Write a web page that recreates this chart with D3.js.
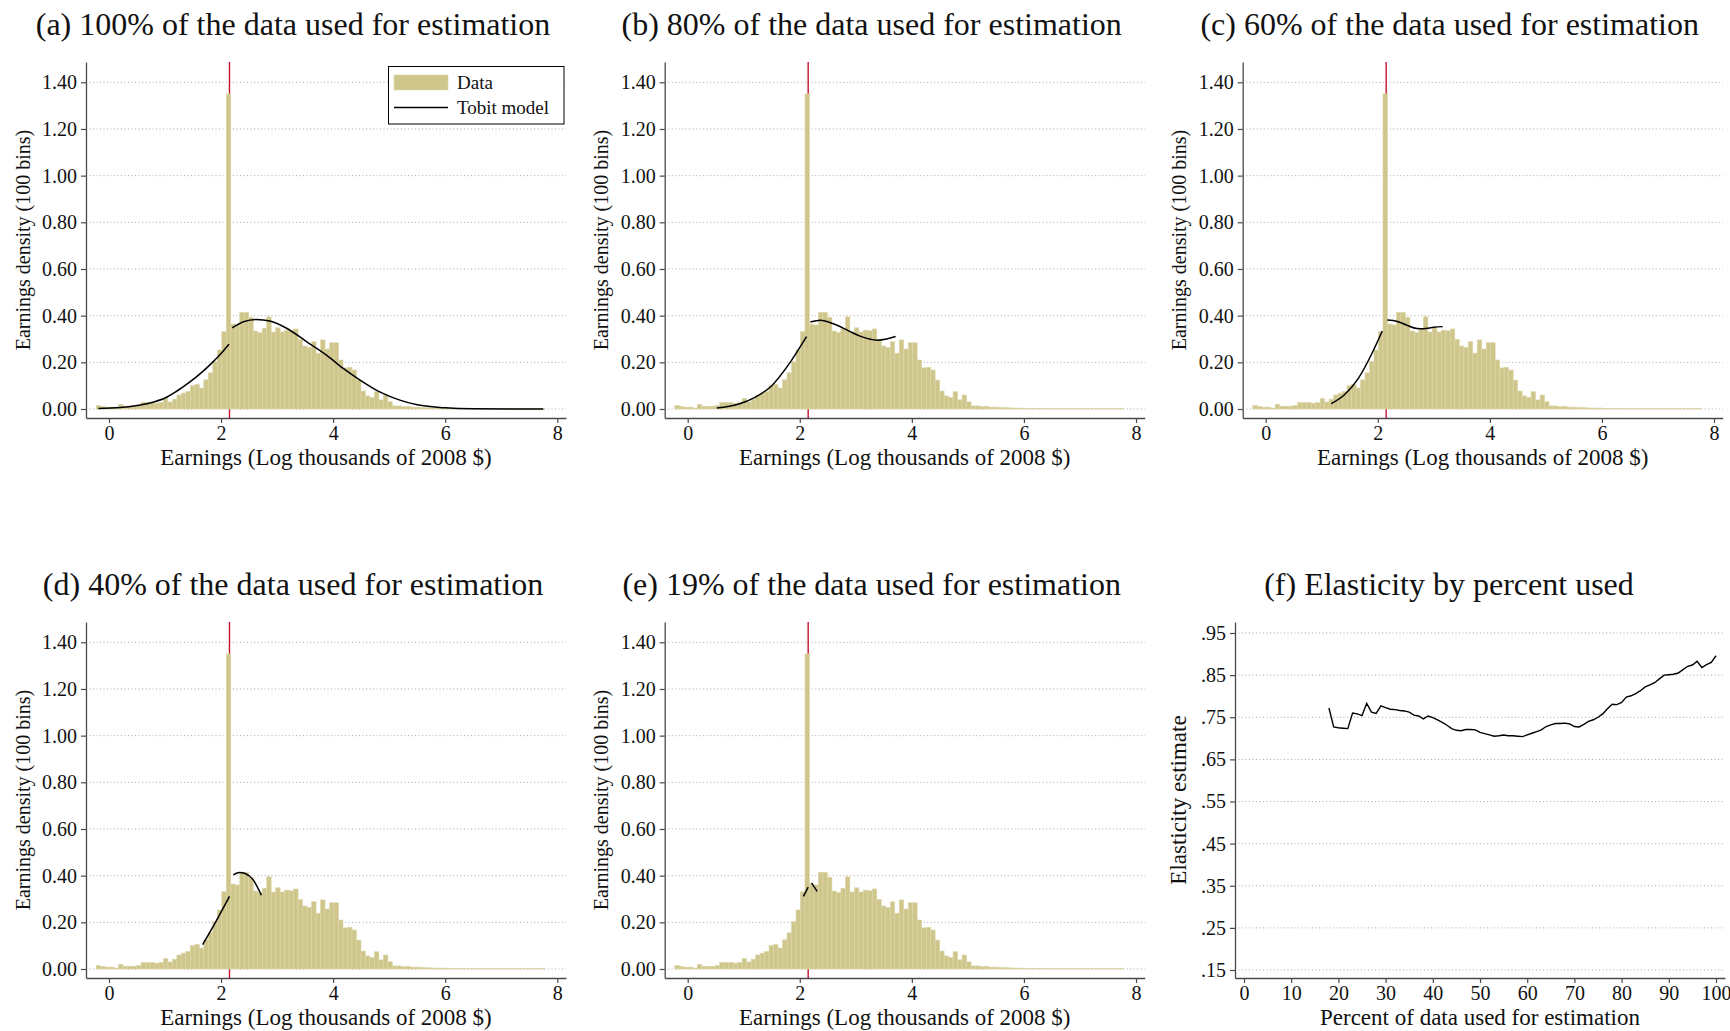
<!DOCTYPE html>
<html>
<head>
<meta charset="utf-8">
<script src="https://cdn.jsdelivr.net/npm/d3@7"></script>
<style>
  body { margin: 0; background: #fff; }
  text { font-family: "Liberation Serif", "Times New Roman", serif; fill: #111; }
</style>
</head>
<body>
<div id="chart"></div>
<script>
// ---- data ----
// histogram: 100 bins from binLo to binHi, density of each bin
var binLo = -0.23, binHi = 7.78;
var density = [
  0.015, 0.011, 0.008, 0.008, 0.004, 0.020, 0.012, 0.012, 0.012, 0.015,
  0.028, 0.028, 0.028, 0.025, 0.028, 0.045, 0.030, 0.042, 0.060, 0.068,
  0.075, 0.100, 0.105, 0.090, 0.125, 0.155, 0.203, 0.253, 0.331, 1.350,
  0.364, 0.360, 0.414, 0.414, 0.393, 0.334, 0.327, 0.346, 0.395, 0.330,
  0.348, 0.330, 0.338, 0.335, 0.343, 0.298, 0.270, 0.264, 0.288, 0.239,
  0.296, 0.257, 0.284, 0.284, 0.210, 0.176, 0.179, 0.167, 0.124, 0.077,
  0.056, 0.049, 0.074, 0.039, 0.060, 0.031, 0.013, 0.013, 0.010, 0.011,
  0.008, 0.008, 0.007, 0.006, 0.005, 0.004, 0.004, 0.004, 0.003, 0.003,
  0.003, 0.003, 0.003, 0.002, 0.002, 0.002, 0.002, 0.002, 0.002, 0.002,
  0.002, 0.002, 0.002, 0.002, 0.002, 0.002, 0.002, 0.002, 0.002, 0.002
];
var censorPoint = 2.15;

// tobit model curves (two pieces each, split at the censoring point)
var tobitA = [
  [[-0.19,0.002],[0.2,0.006],[0.5,0.015],[0.8,0.03],[1.0,0.047],[1.2,0.075],[1.45,0.117],[1.65,0.156],[1.86,0.203],[2.0,0.238],[2.14,0.278]],
  [[2.2,0.348],[2.4,0.374],[2.63,0.384],[2.87,0.377],[3.17,0.346],[3.53,0.288],[3.88,0.231],[4.18,0.174],[4.48,0.124],[4.84,0.072],[5.19,0.038],[5.5,0.018],[6.0,0.005],[6.5,0.001],[7.75,0]]
];
var tobitB = [
  [[0.52,0.004],[0.9,0.02],[1.2,0.05],[1.5,0.1],[1.8,0.19],[2.12,0.31]],
  [[2.19,0.373],[2.37,0.38],[2.6,0.365],[2.88,0.334],[3.1,0.31],[3.38,0.295],[3.55,0.3],[3.71,0.311]]
];
var tobitC = [
  [[1.17,0.023],[1.4,0.06],[1.65,0.13],[1.9,0.24],[2.08,0.334]],
  [[2.17,0.381],[2.35,0.375],[2.51,0.36],[2.7,0.345],[2.81,0.344],[3.0,0.35],[3.16,0.353]]
];
var tobitD = [
  [[1.67,0.104],[1.9,0.2],[2.15,0.311]],
  [[2.22,0.404],[2.33,0.414],[2.43,0.409],[2.57,0.383],[2.72,0.316]]
];
var tobitE = [
  [[2.065,0.311],[2.15,0.351]],
  [[2.21,0.369],[2.31,0.333]]
];

var histYTicks = [0, 0.2, 0.4, 0.6, 0.8, 1.0, 1.2, 1.4];
var histXTicks = [0, 2, 4, 6, 8];

// elasticity by percent of data used
var pctUsed = [18,19,20,21,22,23,24,25,26,27,28,29,30,31,32,33,34,35,36,37,38,39,40,
  41,42,43,44,45,46,47,48,49,50,51,52,53,54,55,56,57,58,59,60,61,62,63,64,65,66,67,68,69,70,
  71,72,73,74,75,76,77,78,79,80,81,82,83,84,85,86,87,88,89,90,91,92,93,94,95,96,97,98,99,100];
var elasticity = [0.772,0.727,0.725,0.724,0.723,0.760,0.758,0.754,0.783,0.762,0.759,0.777,0.773,
  0.769,0.768,0.766,0.765,0.762,0.755,0.753,0.746,0.753,0.749,0.744,0.738,0.731,0.723,0.719,
  0.718,0.721,0.721,0.720,0.714,0.711,0.708,0.705,0.706,0.708,0.706,0.706,0.705,0.704,0.708,
  0.712,0.716,0.720,0.728,0.732,0.735,0.735,0.736,0.734,0.728,0.727,0.733,0.740,0.744,0.750,
  0.758,0.770,0.781,0.780,0.785,0.798,0.801,0.806,0.813,0.822,0.827,0.832,0.841,0.850,0.851,
  0.852,0.855,0.863,0.871,0.874,0.883,0.868,0.875,0.880,0.896];
var elasYTicks = [0.15, 0.25, 0.35, 0.45, 0.55, 0.65, 0.75, 0.85, 0.95];
var elasXTicks = [0,10,20,30,40,50,60,70,80,90,100];

// ---- layout ----
var svg = d3.select("#chart").append("svg")
  .attr("width", 1730).attr("height", 1031)
  .style("background", "#fff");

var panels = [
  {title: "(a) 100% of the data used for estimation", dx: 0,     dy: 0,   curve: tobitA, legend: true},
  {title: "(b) 80% of the data used for estimation",  dx: 578.7, dy: 0,   curve: tobitB},
  {title: "(c) 60% of the data used for estimation",  dx: 1156.7,dy: 0,   curve: tobitC},
  {title: "(d) 40% of the data used for estimation",  dx: 0,     dy: 560, curve: tobitD},
  {title: "(e) 19% of the data used for estimation",  dx: 578.7, dy: 560, curve: tobitE}
];

var barFill = "#cfc68b", barEdge = "#ddd6aa", axisCol = "#4a4a4a", gridCol = "#a8a8a8";

var x = d3.scaleLinear().domain([0, 8]).range([109, 557.3]);
var y = d3.scaleLinear().domain([0, 1.4]).range([409, 82.3]);
var xAx = x.copy().domain([x.invert(86), x.invert(566)]).range([86, 566]);
var yAx = y.copy().domain([y.invert(418), y.invert(62)]).range([418, 62]);
var binW = (binHi - binLo) / density.length;

var line = d3.line()
  .x(function(d) { return x(d[0]); })
  .y(function(d) { return y(d[1]); })
  .curve(d3.curveMonotoneX);

function styleAxis(g) {
  g.select(".domain").attr("stroke", axisCol).attr("stroke-width", 1.3);
  g.selectAll(".tick line").attr("stroke", axisCol).attr("stroke-width", 1.2);
  g.selectAll(".tick text").style("font-family", "Liberation Serif, serif")
    .style("font-size", "20px").attr("fill", "#111");
}

panels.forEach(function(p) {
  var g = svg.append("g").attr("transform", "translate(" + p.dx + "," + p.dy + ")");

  g.append("text")
    .attr("x", 293).attr("y", 35)
    .attr("text-anchor", "middle")
    .style("font-size", "32px")
    .text(p.title);

  // grid
  g.selectAll(".grid").data(histYTicks).enter().append("line")
    .attr("x1", 86).attr("x2", 566)
    .attr("y1", function(d) { return y(d); })
    .attr("y2", function(d) { return y(d); })
    .attr("stroke", gridCol).attr("stroke-width", 1)
    .attr("stroke-dasharray", "1,2.5");

  // censoring point
  g.append("line")
    .attr("x1", x(censorPoint)).attr("x2", x(censorPoint))
    .attr("y1", 62).attr("y2", 418)
    .attr("stroke", "#c8102e").attr("stroke-width", 1.4);

  // bars
  g.selectAll(".bar").data(density).enter().append("rect")
    .attr("x", function(d, i) { return x(binLo + i * binW); })
    .attr("width", function(d, i) { return x(binLo + (i + 1) * binW) - x(binLo + i * binW); })
    .attr("y", function(d) { return y(d); })
    .attr("height", function(d) { return y(0) - y(d); })
    .attr("fill", barFill).attr("stroke", barEdge).attr("stroke-width", 0.6);

  // tobit curve
  p.curve.forEach(function(seg) {
    g.append("path").datum(seg)
      .attr("d", line)
      .attr("fill", "none").attr("stroke", "#000").attr("stroke-width", 1.5);
  });

  // axes
  g.append("g").attr("transform", "translate(86,0)")
    .call(d3.axisLeft(yAx).tickValues(histYTicks).tickFormat(d3.format(".2f")).tickSize(5).tickSizeOuter(0).tickPadding(4))
    .call(styleAxis);
  g.append("g").attr("transform", "translate(0,418)")
    .call(d3.axisBottom(xAx).tickValues(histXTicks).tickFormat(d3.format("d")).tickSize(5).tickSizeOuter(0).tickPadding(3))
    .call(styleAxis);

  g.append("text")
    .attr("x", 326).attr("y", 465)
    .attr("text-anchor", "middle")
    .style("font-size", "23px")
    .text("Earnings (Log thousands of 2008 $)");

  g.append("text")
    .attr("transform", "translate(29.5,240) rotate(-90)")
    .attr("text-anchor", "middle")
    .style("font-size", "20px")
    .text("Earnings density (100 bins)");

  if (p.legend) {
    var lg = g.append("g");
    lg.append("rect").attr("x", 388.5).attr("y", 66.5).attr("width", 175.5).attr("height", 57.5)
      .attr("fill", "#fff").attr("stroke", "#000").attr("stroke-width", 1);
    lg.append("rect").attr("x", 394).attr("y", 75).attr("width", 54).attr("height", 15)
      .attr("fill", barFill).attr("stroke", barEdge).attr("stroke-width", 0.6);
    lg.append("line").attr("x1", 394).attr("x2", 448).attr("y1", 107.5).attr("y2", 107.5)
      .attr("stroke", "#000").attr("stroke-width", 1.5);
    lg.append("text").attr("x", 457).attr("y", 89).style("font-size", "19px").text("Data");
    lg.append("text").attr("x", 457).attr("y", 114).style("font-size", "19px").text("Tobit model");
  }
});

// ---- panel (f): elasticity ----
var fx = d3.scaleLinear().domain([0, 100]).range([1244, 1716]);
var fy = d3.scaleLinear().domain([0.15, 0.95]).range([970, 633]);
var fxAx = fx.copy().domain([fx.invert(1235), fx.invert(1725)]).range([1235, 1725]);
var fyAx = fy.copy().domain([fy.invert(978), fy.invert(622)]).range([978, 622]);

var gf = svg.append("g");
gf.append("text")
  .attr("x", 1449).attr("y", 595)
  .attr("text-anchor", "middle")
  .style("font-size", "32px")
  .text("(f) Elasticity by percent used");

gf.selectAll(".grid").data(elasYTicks).enter().append("line")
  .attr("x1", 1235).attr("x2", 1725)
  .attr("y1", function(d) { return fy(d); })
  .attr("y2", function(d) { return fy(d); })
  .attr("stroke", gridCol).attr("stroke-width", 1)
  .attr("stroke-dasharray", "1,2.5");

gf.append("path").datum(pctUsed.map(function(p, i) { return [p, elasticity[i]]; }))
  .attr("d", d3.line().x(function(d) { return fx(d[0]); }).y(function(d) { return fy(d[1]); }))
  .attr("fill", "none").attr("stroke", "#000").attr("stroke-width", 1.4);

gf.append("g").attr("transform", "translate(1235,0)")
  .call(d3.axisLeft(fyAx).tickValues(elasYTicks).tickFormat(function(d) { return d3.format(".2f")(d).replace(/^0/, ""); })
    .tickSize(5).tickSizeOuter(0).tickPadding(4))
  .call(styleAxis);
gf.append("g").attr("transform", "translate(0,978)")
  .call(d3.axisBottom(fxAx).tickValues(elasXTicks).tickFormat(d3.format("d")).tickSize(5).tickSizeOuter(0).tickPadding(3))
  .call(styleAxis);

gf.append("text")
  .attr("x", 1480).attr("y", 1025)
  .attr("text-anchor", "middle")
  .style("font-size", "23px")
  .text("Percent of data used for estimation");
gf.append("text")
  .attr("transform", "translate(1186,800) rotate(-90)")
  .attr("text-anchor", "middle")
  .style("font-size", "23px")
  .text("Elasticity estimate");
</script>
</body>
</html>
